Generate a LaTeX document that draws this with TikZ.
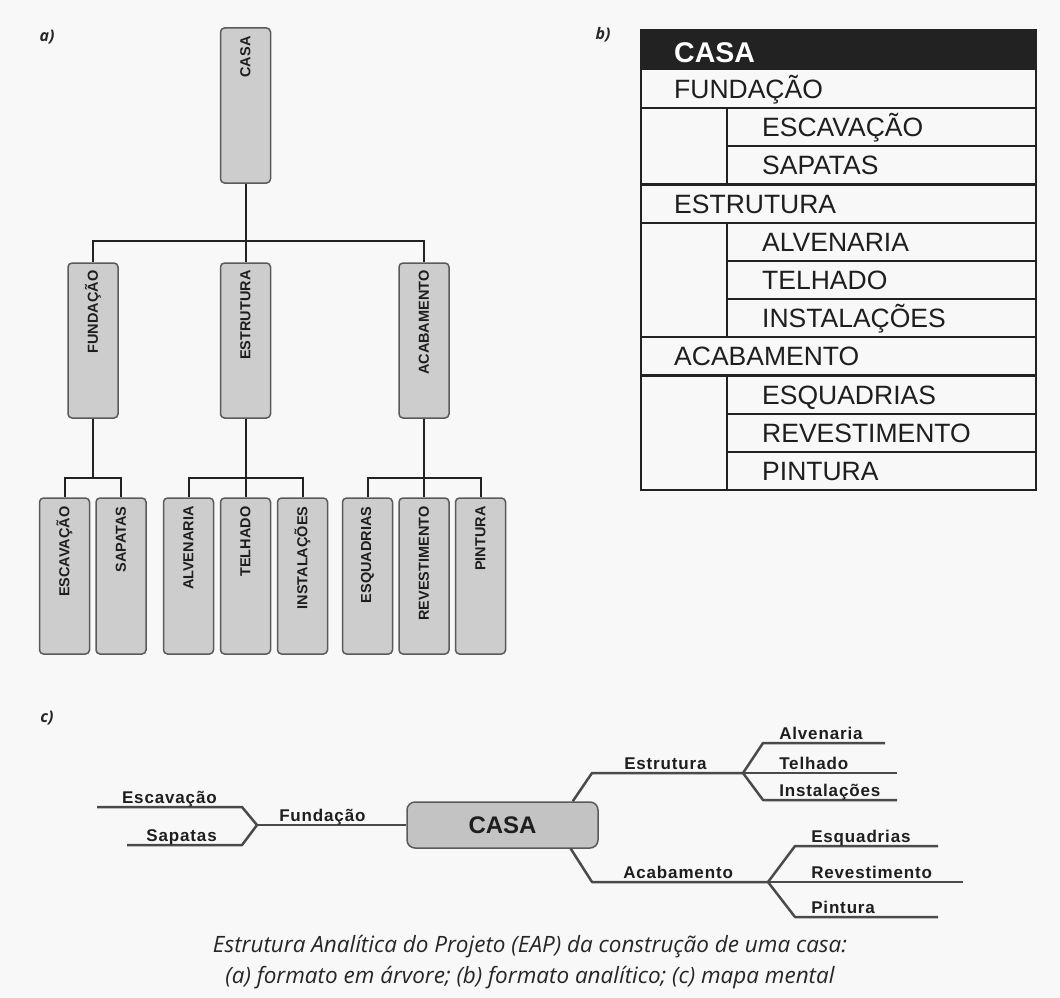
\documentclass[tikz,border=0pt]{standalone}
\usepackage{fontspec}
\setmainfont{Liberation Sans}
\newfontfamily\mapfont[LetterSpace=5]{Liberation Sans}
\newfontfamily\capfont{Open Sans}
\usetikzlibrary{positioning,calc}
\definecolor{eappaper}{HTML}{F8F8F8}
\definecolor{eapgray}{HTML}{CDCDCD}
\definecolor{eapedge}{HTML}{5A5A5A}
\definecolor{eapline}{HTML}{222222}
\definecolor{eapink}{HTML}{1E1E1E}
\definecolor{eapmap}{HTML}{4A4A4A}
\definecolor{eapcap}{HTML}{262626}
\tikzset{
  eapbox/.style={draw=eapedge, fill=eapgray, line width=1.5pt, rounded corners=4pt,
                 minimum width=50pt, minimum height=155pt, inner sep=0pt},
  eapleaf/.style={eapbox, minimum height=156pt},
  eaptxt/.style={rotate=90, anchor=east, inner sep=0pt, text=eapink,
                 font=\fontsize{14.5}{16}\selectfont\bfseries},
  eapconn/.style={draw=eapline, line width=2pt},
  tabline/.style={draw=eapline, line width=2.2pt},
  tabtxt/.style={anchor=base west, inner sep=0pt, text=eapink,
                 font=\fontsize{26.5}{30}\selectfont},
  mapcasa/.style={draw=eapedge, fill=eapgray!95!black, line width=1.5pt, rounded corners=8pt,
                  minimum width=191pt, minimum height=46pt, inner sep=0pt,
                  font=\fontsize{24}{28}\selectfont\bfseries, text=eapink},
  maplink/.style={draw=eapmap, line width=2.5pt, line join=round},
  maplbl/.style={inner sep=0pt, yshift=4pt, text=eapink,
                 font=\mapfont\fontsize{17}{19}\selectfont\bfseries},
  partlbl/.style={text=eapcap, font=\capfont\fontsize{16}{18}\selectfont\bfseries\itshape},
  captxt/.style={text=eapcap, align=center,
                 font=\capfont\fontsize{22.5}{31}\selectfont\itshape},
}

\begin{document}
\begin{tikzpicture}[x=1pt,y=-1pt]

  \fill[eappaper] (0,0) rectangle (1060,998);
  \useasboundingbox (0,0) rectangle (1060,998);

  % a) formato em arvore
  \node[partlbl] (rot-a) at (47,37) {a)};

  \node[eapbox] (casa) at (245.5,105.5) {};
  \node[eaptxt] (casa-t) at ([yshift=-9pt]casa.north) {CASA};

  \foreach \nm/\x/\txt in {fund/93/FUNDAÇÃO, estr/245.5/ESTRUTURA, acab/424/ACABAMENTO}{
    \node[eapbox] (\nm) at (\x,340.5) {};
    \node[eaptxt] (\nm-t) at ([yshift=-8pt]\nm.north) {\txt};
  }

  \foreach \nm/\x/\txt in {esc/64.5/ESCAVAÇÃO, sap/121/SAPATAS,
                           alv/188.5/ALVENARIA, tel/245.5/TELHADO, inst/302.5/INSTALAÇÕES,
                           esq/367.5/ESQUADRIAS, rev/424/REVESTIMENTO, pint/480.5/PINTURA}{
    \node[eapleaf] (\nm) at (\x,576) {};
    \node[eaptxt] (\nm-t) at ([yshift=-9pt]\nm.north) {\txt};
  }

  \draw[eapconn] (casa.south) -- ++(0,57) -| (fund.north);
  \draw[eapconn] (casa.south) -- ++(0,57) -| (acab.north);
  \draw[eapconn] (casa.south) -- (estr.north);

  \foreach \pai/\filho in {fund/esc, fund/sap, estr/alv, estr/tel, estr/inst,
                           acab/esq, acab/rev, acab/pint}{
    \draw[eapconn] (\pai.south) -- ++(0,59) -| (\filho.north);
  }

  % b) formato analitico
  \node[partlbl] (rot-b) at (603,35) {b)};

  \fill[eapline] (641,30) rectangle (1036,70);
  \node[tabtxt, text=white, font=\fontsize{28.5}{30}\selectfont\bfseries] (tab-casa) at (674,63) {CASA};

  \foreach \k in {1,3,4,7,8}
    \draw[tabline] (641,{70+\k*38.18}) -- (1036,{70+\k*38.18});
  \foreach \k in {2,5,6,9,10}
    \draw[tabline] (727,{70+\k*38.18}) -- (1036,{70+\k*38.18});
  \foreach \a/\b in {1/3,4/7,8/11}
    \draw[tabline] (727,{70+\a*38.18}) -- (727,{70+\b*38.18});
  \draw[tabline] (641,30) rectangle (1036,490);

  \foreach \i/\nm/\x/\txt in {0/fund/674/FUNDAÇÃO, 1/esc/762/ESCAVAÇÃO, 2/sap/762/SAPATAS,
                              3/estr/674/ESTRUTURA, 4/alv/762/ALVENARIA, 5/tel/762/TELHADO,
                              6/inst/762/INSTALAÇÕES, 7/acab/674/ACABAMENTO,
                              8/esq/762/ESQUADRIAS, 9/rev/762/REVESTIMENTO, 10/pint/762/PINTURA}{
    \node[tabtxt] (tab-\nm) at (\x,{70+(\i+0.5)*38.18+9.5}) {\txt};
  }

  % c) mapa mental
  \node[partlbl] (rot-c) at (47,718) {c)};

  \node[mapcasa] (mcasa) at (502.5,825) {CASA};

  \coordinate (mfund) at (257,825);
  \coordinate (mestr) at (743,773);
  \coordinate (macab) at (768,882);

  \draw[maplink] (mcasa.west) -- node[maplbl, pos=1, anchor=base west, xshift=21pt] (l-fund) {Fundação} (mfund);
  \draw[maplink] (mfund) -- (242,807) -- node[maplbl, pos=0, anchor=base east, xshift=-24pt] (l-esc) {Escavação} (97,807) coordinate (m-esc);
  \draw[maplink] (mfund) -- (242,845) -- node[maplbl, pos=0, anchor=base east, xshift=-24pt] (l-sap) {Sapatas} (127,845) coordinate (m-sap);

  \draw[maplink] ($(mcasa.north east)+(-26,0)$) -- (592,773) -- node[maplbl, pos=0, anchor=base west, xshift=31pt] (l-estr) {Estrutura} (mestr);
  \draw[maplink] (mestr) -- (763,743) -- node[maplbl, pos=0, anchor=base west, xshift=15pt] (l-alv) {Alvenaria} (885,743) coordinate (m-alv);
  \draw[maplink] (mestr) -- node[maplbl, pos=0, anchor=base west, xshift=35pt] (l-tel) {Telhado} (897,773) coordinate (m-tel);
  \draw[maplink] (mestr) -- (763,800) -- node[maplbl, pos=0, anchor=base west, xshift=15pt] (l-inst) {Instalações} (897,800) coordinate (m-inst);

  \draw[maplink] ($(mcasa.south east)+(-28,0)$) -- (592,882) -- node[maplbl, pos=0, anchor=base west, xshift=30pt] (l-acab) {Acabamento} (macab);
  \draw[maplink] (macab) -- (795,846) -- node[maplbl, pos=0, anchor=base west, xshift=15pt] (l-esq) {Esquadrias} (938,846) coordinate (m-esq);
  \draw[maplink] (macab) -- node[maplbl, pos=0, anchor=base west, xshift=42pt] (l-rev) {Revestimento} (963,882) coordinate (m-rev);
  \draw[maplink] (macab) -- (795,917) -- node[maplbl, pos=0, anchor=base west, xshift=15pt] (l-pint) {Pintura} (938,917) coordinate (m-pint);

  \node[captxt] (legenda) at (530,962) {Estrutura Analítica do Projeto (EAP) da construção de uma casa:\\
    (a) formato em árvore; (b) formato analítico; (c) mapa mental};

\end{tikzpicture}
\end{document}
